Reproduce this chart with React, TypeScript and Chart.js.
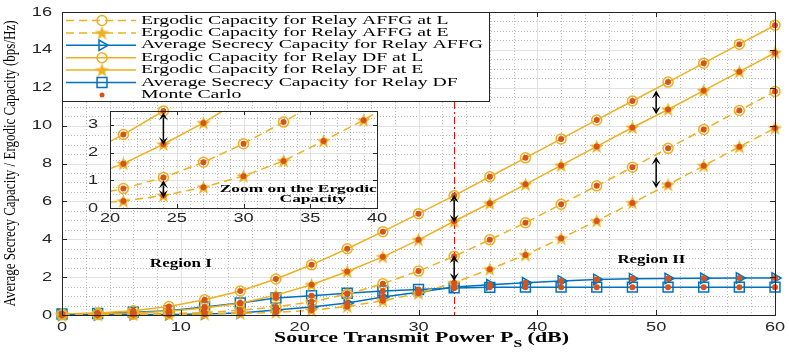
import React, { useEffect, useRef } from 'react';
import { Chart, registerables } from 'chart.js';
Chart.register(...registerables);

// ---------------- data ----------------
const SNR_DB = [0, 3, 6, 9, 12, 15, 18, 21, 24, 27, 30, 33, 36, 39, 42, 45, 48, 51, 54, 57, 60];
const ERGODIC_AFFG_L = [0.01, 0.02, 0.04, 0.07, 0.13, 0.25, 0.42, 0.7, 1.1, 1.65, 2.32, 3.1, 3.97, 4.87, 5.85, 6.82, 7.8, 8.8, 9.8, 10.8, 11.8];
const ERGODIC_AFFG_E = [0.005, 0.01, 0.02, 0.03, 0.05, 0.08, 0.14, 0.25, 0.45, 0.75, 1.15, 1.7, 2.42, 3.17, 4.05, 4.97, 5.92, 6.88, 7.88, 8.88, 9.87];
const SECRECY_AFFG = [0.01, 0.015, 0.02, 0.03, 0.05, 0.1, 0.26, 0.42, 0.63, 0.95, 1.2, 1.48, 1.6, 1.7, 1.8, 1.88, 1.92, 1.93, 1.94, 1.95, 1.95];
const ERGODIC_DF_L = [0.05, 0.1, 0.22, 0.45, 0.8, 1.27, 1.9, 2.65, 3.5, 4.4, 5.35, 6.3, 7.3, 8.3, 9.3, 10.3, 11.3, 12.3, 13.3, 14.3, 15.3];
const ERGODIC_DF_E = [0.02, 0.05, 0.1, 0.2, 0.37, 0.62, 1.05, 1.6, 2.3, 3.07, 3.97, 4.95, 5.9, 6.9, 7.9, 8.9, 9.9, 10.85, 11.85, 12.85, 13.85];
const SECRECY_DF = [0.05, 0.08, 0.15, 0.22, 0.42, 0.63, 0.9, 1.02, 1.15, 1.27, 1.35, 1.43, 1.46, 1.47, 1.47, 1.47, 1.47, 1.47, 1.47, 1.47, 1.47];

const X_TICKS = [0, 10, 20, 30, 40, 50, 60];
const Y_TICKS = [0, 2, 4, 6, 8, 10, 12, 14, 16];
const INSET_X_TICKS = [20, 25, 30, 35, 40];
const INSET_Y_TICKS = [0, 1, 2, 3];

const LEGEND_LABELS = [
  'Ergodic Capacity for Relay AFFG at L',
  'Ergodic Capacity for Relay AFFG at E',
  'Average Secrecy Capacity for Relay AFFG',
  'Ergodic Capacity for Relay DF at L',
  'Ergodic Capacity for Relay DF at E',
  'Average Secrecy Capacity for Relay DF',
  'Monte Carlo',
];
const X_TITLE = 'Source Transmit Power P';
const X_TITLE_SUB = 'S';
const X_TITLE_END = ' (dB)';
const Y_TITLE = 'Average Secrecy Capacity / Ergodic Capacity (bps/Hz)';
const INSET_TEXT = ['Zoom on the Ergodic', 'Capacity'];
const THRESHOLD_DB = 33;

// ---------------- styles ----------------
const ORANGE = '#EDB120';
const BLUE = '#0072BD';
const MC = '#D95319';
const TXT = '#262626';

function makeStar(): HTMLCanvasElement {
  const c = document.createElement('canvas');
  c.width = 17; c.height = 17;
  const g = c.getContext('2d')!;
  g.translate(8.5, 9);
  g.beginPath();
  for (let i = 0; i < 10; i++) {
    const r = i % 2 ? 3.1 : 7.6;
    const a = -Math.PI / 2 + (i * Math.PI) / 5;
    const px = r * Math.cos(a), py = r * Math.sin(a);
    if (i === 0) g.moveTo(px, py); else g.lineTo(px, py);
  }
  g.closePath();
  g.fillStyle = ORANGE;
  g.fill();
  return c;
}

function drawText(ctx: CanvasRenderingContext2D, text: string, x: number, y: number, font: string, sx: number, align: string, color = TXT) {
  ctx.save();
  ctx.font = font;
  ctx.fillStyle = color;
  ctx.textBaseline = 'middle';
  ctx.textAlign = 'left';
  const w = ctx.measureText(text).width * sx;
  const left = align === 'center' ? x - w / 2 : align === 'right' ? x - w : x;
  ctx.translate(left, y);
  ctx.scale(sx, 1);
  ctx.fillText(text, 0, 0);
  ctx.restore();
}
function textWidth(ctx: CanvasRenderingContext2D, text: string, font: string) {
  ctx.save(); ctx.font = font; const w = ctx.measureText(text).width; ctx.restore(); return w;
}

function drawMarker(ctx: CanvasRenderingContext2D, style: any, x: number, y: number, r: number, rot: number, color: string) {
  ctx.save();
  ctx.translate(x, y);
  ctx.rotate((rot * Math.PI) / 180);
  if (style instanceof HTMLCanvasElement) {
    ctx.drawImage(style, -style.width / 2, -style.height / 2);
    ctx.restore();
    return;
  }
  ctx.strokeStyle = color; ctx.lineWidth = 1.5; ctx.setLineDash([]);
  ctx.beginPath();
  if (style === 'circle') ctx.arc(0, 0, r, 0, Math.PI * 2);
  else if (style === 'rect') { const s = r * Math.SQRT1_2; ctx.rect(-s, -s, 2 * s, 2 * s); }
  else if (style === 'triangle') {
    for (let k = 0; k < 3; k++) {
      const a = -Math.PI / 2 + (k * 2 * Math.PI) / 3;
      if (k === 0) ctx.moveTo(r * Math.cos(a), r * Math.sin(a)); else ctx.lineTo(r * Math.cos(a), r * Math.sin(a));
    }
    ctx.closePath();
  }
  ctx.stroke();
  ctx.restore();
}

function doubleArrow(ctx: CanvasRenderingContext2D, x: number, yTop: number, yBot: number) {
  ctx.save();
  ctx.strokeStyle = '#000'; ctx.fillStyle = '#000'; ctx.lineWidth = 1.5; ctx.setLineDash([]);
  const hl = 8, hw = 4.5;
  ctx.beginPath(); ctx.moveTo(x, yTop + 5); ctx.lineTo(x, yBot - 5); ctx.stroke();
  const head = (tip: number, dir: number) => {
    ctx.beginPath();
    ctx.moveTo(x, tip);
    ctx.lineTo(x - hw, tip + dir * hl);
    ctx.lineTo(x, tip + dir * hl * 0.55);
    ctx.lineTo(x + hw, tip + dir * hl);
    ctx.closePath();
    ctx.fill();
  };
  head(yTop, 1); head(yBot, -1);
  ctx.restore();
}

const TICK_FONT = '13px "Liberation Sans"';
const TICK_SX = 1.4;

function series(label: string, values: number[], color: string, dashed: boolean, style: any, radius: number, rotation = 0) {
  return {
    label,
    data: SNR_DB.map((x, i) => ({ x, y: values[i] })),
    borderColor: color,
    backgroundColor: 'rgba(0,0,0,0)',
    borderWidth: 1.5,
    borderDash: dashed ? [8, 5] : [],
    pointStyle: style,
    pointRadius: radius,
    pointHoverRadius: radius,
    pointRotation: rotation,
    pointBorderColor: color,
    pointBackgroundColor: 'rgba(0,0,0,0)',
    pointBorderWidth: 1.5,
    tension: 0,
    fill: false,
    clip: false as any,
    order: 1,
  };
}

function drawGrid(ctx: CanvasRenderingContext2D, a: any, xs: any, ys: any, xMinor: number[], yMinor: number[], xMajor: number[], yMajor: number[]) {
  ctx.save();
  ctx.lineWidth = 1;
  ctx.strokeStyle = 'rgba(40,40,40,0.32)';
  ctx.setLineDash([1, 2]);
  xMinor.forEach((v) => {
    const p = Math.round(xs.getPixelForValue(v)) + 0.5;
    ctx.beginPath(); ctx.moveTo(p, a.top); ctx.lineTo(p, a.bottom); ctx.stroke();
  });
  yMinor.forEach((v) => {
    const p = Math.round(ys.getPixelForValue(v)) + 0.5;
    ctx.beginPath(); ctx.moveTo(a.left, p); ctx.lineTo(a.right, p); ctx.stroke();
  });
  ctx.setLineDash([]);
  ctx.strokeStyle = '#E2E2E2';
  xMajor.forEach((v) => {
    const p = Math.round(xs.getPixelForValue(v)) + 0.5;
    ctx.beginPath(); ctx.moveTo(p, a.top); ctx.lineTo(p, a.bottom); ctx.stroke();
  });
  yMajor.forEach((v) => {
    const p = Math.round(ys.getPixelForValue(v)) + 0.5;
    ctx.beginPath(); ctx.moveTo(a.left, p); ctx.lineTo(a.right, p); ctx.stroke();
  });
  ctx.restore();
}

function drawBox(ctx: CanvasRenderingContext2D, a: any, xs: any, ys: any, xt: number[], yt: number[], tl: number) {
  ctx.save();
  ctx.strokeStyle = TXT; ctx.lineWidth = 1; ctx.setLineDash([]);
  ctx.strokeRect(Math.round(a.left) + 0.5, Math.round(a.top) + 0.5, Math.round(a.right - a.left), Math.round(a.bottom - a.top));
  xt.forEach((v) => {
    const p = Math.round(xs.getPixelForValue(v)) + 0.5;
    ctx.beginPath(); ctx.moveTo(p, a.bottom); ctx.lineTo(p, a.bottom - tl); ctx.stroke();
    ctx.beginPath(); ctx.moveTo(p, a.top); ctx.lineTo(p, a.top + tl); ctx.stroke();
  });
  yt.forEach((v) => {
    const p = Math.round(ys.getPixelForValue(v)) + 0.5;
    ctx.beginPath(); ctx.moveTo(a.left, p); ctx.lineTo(a.left + tl, p); ctx.stroke();
    ctx.beginPath(); ctx.moveTo(a.right, p); ctx.lineTo(a.right - tl, p); ctx.stroke();
  });
  ctx.restore();
}

function range(from: number, to: number, step: number, skip: number) {
  const out: number[] = [];
  for (let v = from; v < to - 1e-9; v += step) {
    const r = v / skip;
    if (Math.abs(r - Math.round(r)) > 1e-6) out.push(v);
  }
  return out;
}

function buildMain(star: HTMLCanvasElement) {
  const dsAffgL = series('AFFG L', ERGODIC_AFFG_L, ORANGE, true, 'circle', 5);
  const dsAffgE = series('AFFG E', ERGODIC_AFFG_E, ORANGE, true, star, 6);
  const dsSecAffg = series('Sec AFFG', SECRECY_AFFG, BLUE, false, 'triangle', 6, 90);
  const dsDfL = series('DF L', ERGODIC_DF_L, ORANGE, false, 'circle', 5);
  const dsDfE = series('DF E', ERGODIC_DF_E, ORANGE, false, star, 6);
  const dsSecDf = series('Sec DF', SECRECY_DF, BLUE, false, 'rect', 7);
  const all = [ERGODIC_AFFG_L, ERGODIC_AFFG_E, SECRECY_AFFG, ERGODIC_DF_L, ERGODIC_DF_E, SECRECY_DF];
  const mcPoints: { x: number; y: number }[] = [];
  all.forEach((arr) => arr.forEach((y, i) => mcPoints.push({ x: SNR_DB[i], y })));
  const mcDs = {
    label: 'Monte Carlo', data: mcPoints, showLine: false, pointStyle: 'circle', pointRadius: 3, pointHoverRadius: 3,
    pointBackgroundColor: MC, pointBorderColor: MC, pointBorderWidth: 0, borderColor: MC, clip: false as any, order: 0,
  };
  const legendSets = [dsAffgL, dsAffgE, dsSecAffg, dsDfL, dsDfE, dsSecDf];

  const plugin = {
    id: 'mainDecor',
    beforeDatasetsDraw(chart: any) {
      const { ctx, chartArea: a, scales } = chart;
      const xs = scales.x, ys = scales.y;
      drawGrid(ctx, a, xs, ys, range(2, 60, 2, 10), range(0.5, 16, 0.5, 2), X_TICKS.slice(1, -1), Y_TICKS.slice(1, -1));
      // threshold line
      ctx.save();
      ctx.strokeStyle = '#FF0000'; ctx.lineWidth = 1; ctx.setLineDash([7, 3, 2, 3]);
      const px = Math.round(xs.getPixelForValue(THRESHOLD_DB)) + 0.5;
      ctx.beginPath(); ctx.moveTo(px, a.top); ctx.lineTo(px, a.bottom); ctx.stroke();
      ctx.restore();
    },
    afterDatasetsDraw(chart: any) {
      const { ctx, chartArea: a, scales } = chart;
      const xs = scales.x, ys = scales.y;
      // arrows
      doubleArrow(ctx, xs.getPixelForValue(50), ys.getPixelForValue(11.85), ys.getPixelForValue(10.6));
      doubleArrow(ctx, xs.getPixelForValue(50), ys.getPixelForValue(8.35), ys.getPixelForValue(6.7));
      doubleArrow(ctx, xs.getPixelForValue(33), ys.getPixelForValue(6.35), ys.getPixelForValue(4.87));
      doubleArrow(ctx, xs.getPixelForValue(33), ys.getPixelForValue(3.15), ys.getPixelForValue(1.8));
      // region labels
      const rf = 'bold 12px "Liberation Serif"';
      drawText(ctx, 'Region I', xs.getPixelForValue(10), ys.getPixelForValue(2.69), rf, 62 / textWidth(ctx, 'Region I', rf), 'center', '#000');
      drawText(ctx, 'Region II', xs.getPixelForValue(49.6), ys.getPixelForValue(2.9), rf, 68 / textWidth(ctx, 'Region II', rf), 'center', '#000');
      // box & ticks
      drawBox(ctx, a, xs, ys, X_TICKS, Y_TICKS, 5);
      X_TICKS.forEach((v) => drawText(ctx, String(v), xs.getPixelForValue(v), a.bottom + 12, TICK_FONT, TICK_SX, 'center'));
      Y_TICKS.forEach((v) => drawText(ctx, String(v), a.left - 10, ys.getPixelForValue(v), TICK_FONT, TICK_SX, 'right'));
      // x title
      const tf = 'bold 14px "Liberation Serif"';
      const sf = 'bold 10px "Liberation Serif"';
      const w1 = textWidth(ctx, X_TITLE, tf), w2 = textWidth(ctx, X_TITLE_SUB, sf), w3 = textWidth(ctx, X_TITLE_END, tf);
      const sxT = 295 / (w1 + w2 + w3);
      const cx = (a.left + a.right) / 2 + 3;
      let left = cx - 295 / 2;
      drawText(ctx, X_TITLE, left, 338, tf, sxT, 'left', '#000');
      left += w1 * sxT;
      drawText(ctx, X_TITLE_SUB, left, 344, sf, sxT, 'left', '#000');
      left += w2 * sxT;
      drawText(ctx, X_TITLE_END, left, 338, tf, sxT, 'left', '#000');
      // y title
      ctx.save();
      const yf = '13px "Liberation Serif"';
      const yw = textWidth(ctx, Y_TITLE, yf);
      ctx.translate(10.5, (a.top + a.bottom) / 2);
      ctx.rotate(-Math.PI / 2);
      ctx.scale(286 / yw, 1.3);
      ctx.font = yf; ctx.fillStyle = '#000'; ctx.textAlign = 'center'; ctx.textBaseline = 'middle';
      ctx.fillText(Y_TITLE, 0, 0);
      ctx.restore();
      // legend
      const lx0 = Math.round(a.left) + 0.5, ly0 = Math.round(a.top) + 0.5;
      const lw = 427, lh = 89;
      ctx.save();
      ctx.fillStyle = '#fff';
      ctx.fillRect(lx0, ly0, lw, lh);
      ctx.strokeStyle = TXT; ctx.lineWidth = 1;
      ctx.strokeRect(lx0, ly0, lw, lh);
      ctx.restore();
      const lf = '12px "Liberation Serif"';
      const lsx = 342 / textWidth(ctx, LEGEND_LABELS[2], lf);
      LEGEND_LABELS.forEach((lab, i) => {
        const ry = a.top + 8.5 + i * 12.4;
        if (i < 6) {
          const d: any = legendSets[i];
          ctx.save();
          ctx.strokeStyle = d.borderColor; ctx.lineWidth = 1.5; ctx.setLineDash(d.borderDash);
          ctx.beginPath(); ctx.moveTo(a.left + 4, ry); ctx.lineTo(a.left + 74, ry); ctx.stroke();
          ctx.restore();
          drawMarker(ctx, d.pointStyle, a.left + 40, ry, d.pointRadius, d.pointRotation, d.borderColor);
        } else {
          ctx.save(); ctx.fillStyle = MC; ctx.beginPath(); ctx.arc(a.left + 40, ry, 2.5, 0, Math.PI * 2); ctx.fill(); ctx.restore();
        }
        drawText(ctx, lab, a.left + 79, ry, lf, lsx, 'left', '#000');
      });
    },
  };

  return {
    type: 'line' as const,
    data: { datasets: [mcDs, ...legendSets] as any[] },
    options: {
      responsive: false,
      animation: false as const,
      events: [] as any[],
      layout: { padding: { left: 62, right: 14, top: 12, bottom: 39 } },
      plugins: { legend: { display: false }, tooltip: { enabled: false } },
      scales: {
        x: { type: 'linear' as const, min: 0, max: 60, display: false },
        y: { type: 'linear' as const, min: 0, max: 16, display: false },
      },
    },
    plugins: [plugin],
  };
}

function buildInset(star: HTMLCanvasElement) {
  const X0 = INSET_X_TICKS[0], X1 = INSET_X_TICKS[INSET_X_TICKS.length - 1], Y1 = 3.5;
  const inWin = (x: number, y: number) => x >= X0 && x <= X1 && y >= 0 && y <= Y1 + 0.01;
  const lineOnly = (values: number[], dashed: boolean) => ({
    data: SNR_DB.map((x, i) => ({ x, y: values[i] })),
    borderColor: ORANGE, borderWidth: 1.5, borderDash: dashed ? [8, 5] : [], pointRadius: 0, tension: 0, fill: false, order: 2,
  });
  const pts = (values: number[], style: any, radius: number) => ({
    data: SNR_DB.map((x, i) => ({ x, y: values[i] })).filter((p) => inWin(p.x, p.y)),
    showLine: false, pointStyle: style, pointRadius: radius, pointHoverRadius: radius,
    pointBorderColor: ORANGE, pointBackgroundColor: 'rgba(0,0,0,0)', pointBorderWidth: 1.5, borderColor: ORANGE,
    clip: false as any, order: 1,
  });
  const ergodic = [ERGODIC_AFFG_L, ERGODIC_AFFG_E, ERGODIC_DF_L, ERGODIC_DF_E];
  const mcPoints: { x: number; y: number }[] = [];
  ergodic.forEach((arr) => arr.forEach((y, i) => { if (inWin(SNR_DB[i], y)) mcPoints.push({ x: SNR_DB[i], y }); }));
  const datasets: any[] = [
    { data: mcPoints, showLine: false, pointRadius: 3, pointHoverRadius: 3, pointBackgroundColor: MC, pointBorderColor: MC, pointBorderWidth: 0, clip: false, order: 0 },
    pts(ERGODIC_AFFG_L, 'circle', 5), pts(ERGODIC_AFFG_E, star, 6), pts(ERGODIC_DF_L, 'circle', 5), pts(ERGODIC_DF_E, star, 6),
    lineOnly(ERGODIC_AFFG_L, true), lineOnly(ERGODIC_AFFG_E, true), lineOnly(ERGODIC_DF_L, false), lineOnly(ERGODIC_DF_E, false),
  ];
  const plugin = {
    id: 'insetDecor',
    beforeDatasetsDraw(chart: any) {
      const { ctx, chartArea: a, scales } = chart;
      ctx.save(); ctx.fillStyle = '#fff'; ctx.fillRect(a.left, a.top, a.right - a.left, a.bottom - a.top); ctx.restore();
      drawGrid(ctx, a, scales.x, scales.y, range(X0 + 1, X1, 1, 5), range(0.25, Y1, 0.25, 1), INSET_X_TICKS.slice(1, -1), INSET_Y_TICKS.slice(1));
    },
    afterDatasetsDraw(chart: any) {
      const { ctx, chartArea: a, scales } = chart;
      const xs = scales.x, ys = scales.y;
      drawBox(ctx, a, xs, ys, INSET_X_TICKS, INSET_Y_TICKS, 4);
      INSET_X_TICKS.forEach((v) => drawText(ctx, String(v), xs.getPixelForValue(v), a.bottom + 10, TICK_FONT, TICK_SX, 'center'));
      INSET_Y_TICKS.forEach((v) => drawText(ctx, String(v), a.left - 12, ys.getPixelForValue(v), TICK_FONT, TICK_SX, 'right'));
      doubleArrow(ctx, xs.getPixelForValue(24), ys.getPixelForValue(3.45), ys.getPixelForValue(2.27));
      doubleArrow(ctx, xs.getPixelForValue(24), ys.getPixelForValue(1.0), ys.getPixelForValue(0.36));
      const f = 'bold 11px "Liberation Serif"';
      const sx = 157 / textWidth(ctx, INSET_TEXT[0], f);
      drawText(ctx, INSET_TEXT[0], xs.getPixelForValue(34.1), ys.getPixelForValue(0.69), f, sx, 'center', '#000');
      drawText(ctx, INSET_TEXT[1], xs.getPixelForValue(35.2), ys.getPixelForValue(0.32), f, sx, 'center', '#000');
    },
  };
  return {
    type: 'line' as const,
    data: { datasets },
    options: {
      responsive: false,
      animation: false as const,
      events: [] as any[],
      layout: { padding: { left: 30, right: 13, top: 11, bottom: 22 } },
      plugins: { legend: { display: false }, tooltip: { enabled: false } },
      scales: {
        x: { type: 'linear' as const, min: X0, max: X1, display: false },
        y: { type: 'linear' as const, min: 0, max: Y1, display: false },
      },
    },
    plugins: [plugin],
  };
}

export default function App() {
  const mainRef = useRef<HTMLCanvasElement>(null);
  const insetRef = useRef<HTMLCanvasElement>(null);
  useEffect(() => {
    const star = makeStar();
    const main = new Chart(mainRef.current!, buildMain(star) as any);
    const inset = new Chart(insetRef.current!, buildInset(star) as any);
    return () => { main.destroy(); inset.destroy(); };
  }, []);
  return (
    <div style={{ position: 'fixed', left: 0, top: 0, width: 789, height: 354, background: '#fff', overflow: 'hidden' }}>
      <canvas ref={mainRef} width={789} height={354} style={{ position: 'absolute', left: 0, top: 0 }} />
      <canvas ref={insetRef} width={310} height={130} style={{ position: 'absolute', left: 80, top: 100 }} />
    </div>
  );
}
